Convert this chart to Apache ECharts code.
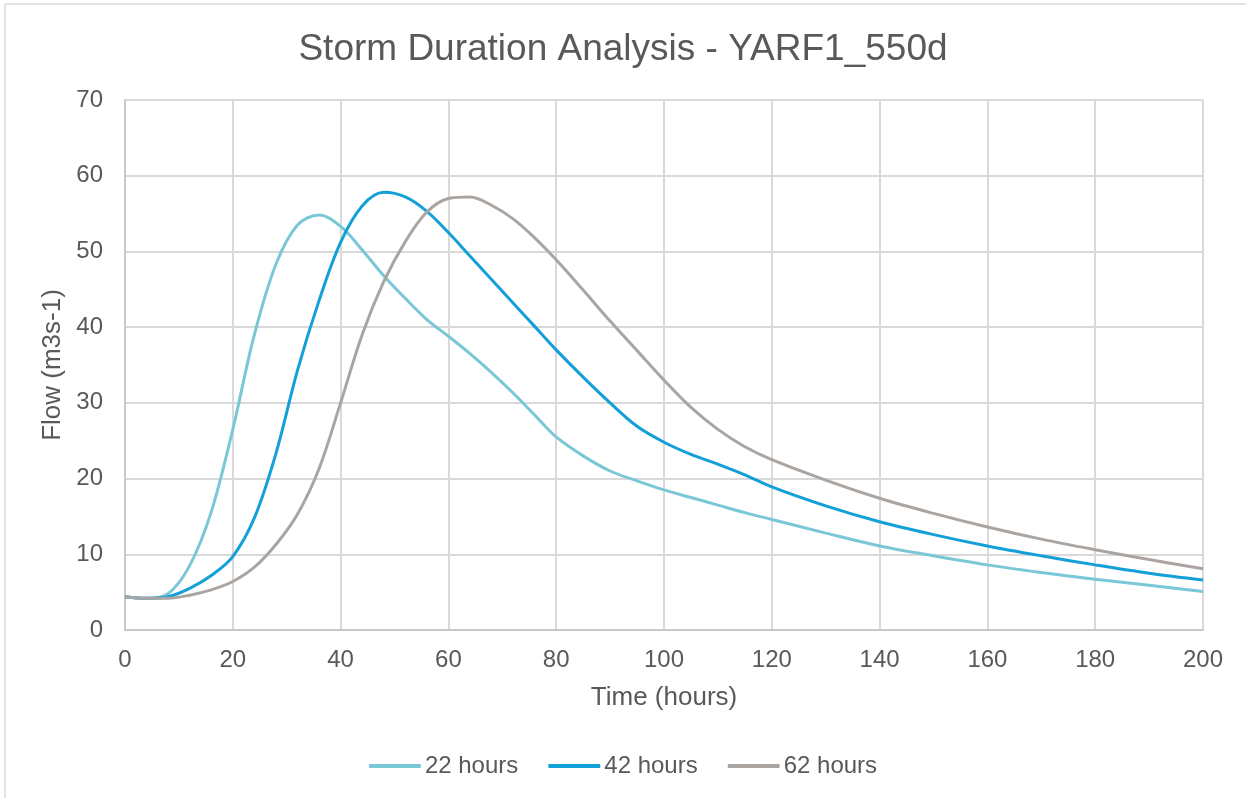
<!DOCTYPE html>
<html lang="en">
<head>
    <meta charset="UTF-8">
    <title>Storm Duration Analysis</title>
    <script src="https://cdn.jsdelivr.net/npm/echarts@6/dist/echarts.min.js"></script>
    <style>
        html, body { margin: 0; padding: 0; background: #fff; }
    </style>
</head>
<body>
<div id="dom" style="width: 1246px;height: 798px"></div>
<script>
    // time (hours) shared by all three runs
    var hours = [0, 4, 8, 12, 16, 20, 24, 28, 32, 36, 40, 44, 48, 52, 56, 60, 64, 68, 72, 76, 80,
        85, 90, 95, 100, 105, 110, 115, 120, 130, 140, 150, 160, 170, 180, 190, 200];
    // flow (m3s-1)
    var flow22 = [4.4, 4.2, 4.8, 8.5, 15.6, 26.5, 39.0, 48.3, 53.5, 54.8, 53.3, 50.2, 46.8, 43.8, 41.0, 38.8, 36.5, 34.0, 31.3, 28.4, 25.5,
        23.0, 21.0, 19.7, 18.5, 17.5, 16.5, 15.5, 14.6, 12.8, 11.1, 9.8, 8.6, 7.6, 6.7, 5.9, 5.1];
    var flow42 = [4.4, 4.2, 4.4, 5.5, 7.2, 9.7, 14.8, 23.3, 34.3, 43.5, 51.2, 56.0, 57.8, 57.2, 55.3, 52.5, 49.4, 46.3, 43.2, 40.1, 37.0,
        33.4, 30.0, 26.9, 24.8, 23.2, 21.9, 20.5, 18.9, 16.4, 14.3, 12.6, 11.1, 9.8, 8.6, 7.5, 6.6];
    var flow62 = [4.4, 4.2, 4.2, 4.6, 5.3, 6.4, 8.3, 11.3, 15.3, 21.3, 30.0, 39.0, 46.0, 51.3, 55.2, 57.0, 57.2, 56.1, 54.3, 51.8, 48.9,
        44.9, 40.8, 36.9, 33.0, 29.4, 26.5, 24.2, 22.5, 19.8, 17.4, 15.4, 13.6, 12.0, 10.6, 9.3, 8.1];
    var seriesNames = ['22 hours', '42 hours', '62 hours'];
    var seriesColors = ['#79c7d7', '#139fd8', '#aba5a1'];

    function pairs(vals) {
        var out = [];
        for (var i = 0; i < hours.length; i++) {
            out.push([hours[i], vals[i]]);
        }
        return out;
    }

    var dom = document.getElementById("dom");
    var myCharts = echarts.init(dom);
    var txt = '#595959';
    var font = 'Liberation Sans, Arial, sans-serif';
    var allFlows = [flow22, flow42, flow62];
    var series = [];
    for (var k = 0; k < 3; k++) {
        series.push({
            name: seriesNames[k],
            type: 'line',
            data: pairs(allFlows[k]),
            smooth: 0.35,
            showSymbol: false,
            lineStyle: { width: 3, color: seriesColors[k] },
            itemStyle: { color: seriesColors[k] }
        });
    }

    var option = {
        backgroundColor: '#fff',
        textStyle: { fontFamily: font },
        title: {
            text: 'Storm Duration Analysis - YARF1_550d',
            left: 'center',
            top: 26,
            textStyle: { color: txt, fontSize: 37, fontWeight: 'normal', fontFamily: font }
        },
        legend: {
            bottom: 15,
            left: 'center',
            itemWidth: 52,
            itemHeight: 4,
            itemGap: 30,
            icon: 'roundRect',
            textStyle: { color: txt, fontSize: 24, fontFamily: font, padding: [0, 0, 0, -1] },
            data: seriesNames
        },
        grid: { left: 125, right: 43, top: 100, bottom: 168, containLabel: false },
        xAxis: {
            type: 'value',
            min: 0, max: 200, interval: 20,
            name: 'Time (hours)',
            nameLocation: 'middle',
            nameGap: 55,
            nameTextStyle: { color: txt, fontSize: 26, fontFamily: font },
            axisLine: { show: true, lineStyle: { color: '#c8c8c8', width: 2 } },
            axisTick: { show: false },
            axisLabel: { color: txt, fontSize: 24, margin: 18, fontFamily: font },
            splitLine: { show: true, lineStyle: { color: '#d9d9d9', width: 2 } }
        },
        yAxis: {
            type: 'value',
            min: 0, max: 70, interval: 10,
            name: 'Flow (m3s-1)',
            nameLocation: 'middle',
            nameGap: 52,
            nameTextStyle: { color: txt, fontSize: 26, fontFamily: font },
            axisLine: { show: true, lineStyle: { color: '#c8c8c8', width: 2 } },
            axisTick: { show: false },
            axisLabel: { color: txt, fontSize: 24, margin: 22, fontFamily: font },
            splitLine: { show: true, lineStyle: { color: '#d9d9d9', width: 2 } }
        },
        graphic: [
            { type: 'line', shape: { x1: 5, y1: 4, x2: 1246, y2: 4 }, style: { stroke: '#d9d9d9', lineWidth: 1.5 } },
            { type: 'line', shape: { x1: 5, y1: 4, x2: 5, y2: 798 }, style: { stroke: '#d9d9d9', lineWidth: 1.5 } }
        ],
        series: series
    };
    myCharts.setOption(option);
</script>
</body>
</html>
